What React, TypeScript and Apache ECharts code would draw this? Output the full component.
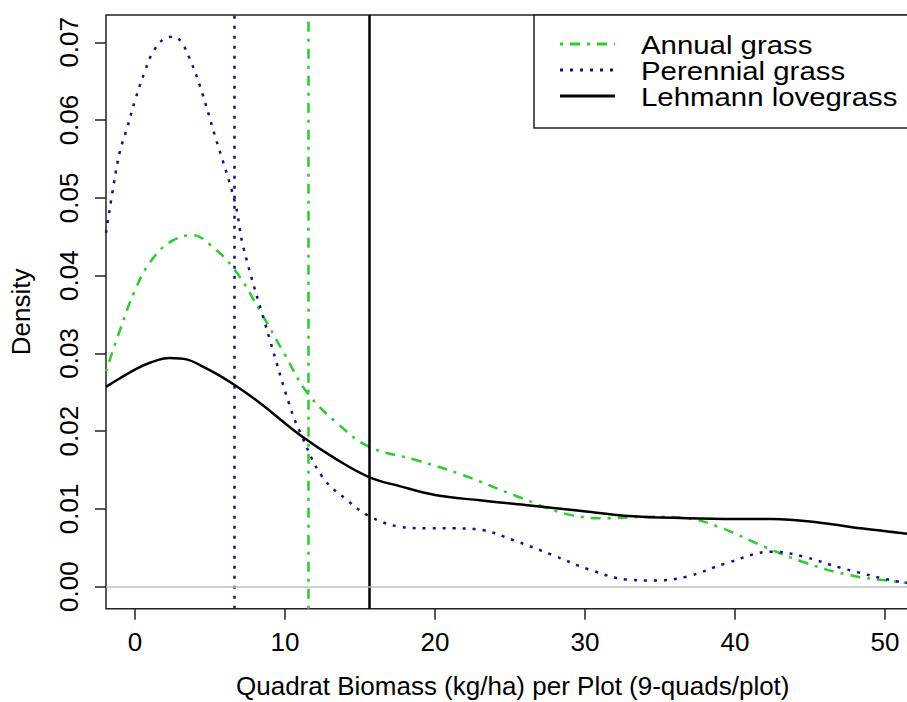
import React, { useEffect, useRef } from "react";
import * as echarts from "echarts";

// ---- data ----
const seriesNames = ["Annual grass", "Perennial grass", "Lehmann lovegrass"];
const xTicks = [0, 10, 20, 30, 40, 50];
const yTicks = [0, 0.01, 0.02, 0.03, 0.04, 0.05, 0.06, 0.07];
const meanValues = [11.53, 6.65, 15.6]; // annual, perennial, lehmann

const annualX = [-1.93, -1, 0, 1, 2.33, 3.85, 5, 6.67, 8.33, 10, 11.5, 13.5, 15.6, 18.7, 21.8, 25.5, 29.1, 31.6, 34.2, 36.8, 38.9, 42.0, 44.5, 47.6, 51.0, 52.3];
const annualY = [0.0277, 0.033, 0.0381, 0.0417, 0.0443, 0.0452, 0.044, 0.0407, 0.0355, 0.0298, 0.0249, 0.021, 0.018, 0.0163, 0.0144, 0.0116, 0.0092, 0.0088, 0.009, 0.0088, 0.0077, 0.0051, 0.0032, 0.0015, 0.0006, 0.0004];

const perennialX = [-1.93, -1.33, -1, -0.55, 0, 0.67, 1.22, 2.0, 2.6, 3.1, 3.67, 4.33, 5.33, 6.67, 7.22, 9, 10.33, 11, 12.5, 14.1, 15.6, 17.7, 19.5, 21.3, 23.1, 25.2, 27.8, 30.3, 32.9, 34.7, 36.8, 39.4, 42.5, 44.5, 47.1, 51.0, 52.3];
const perennialY = [0.0455, 0.0527, 0.056, 0.0588, 0.0625, 0.0663, 0.0688, 0.0705, 0.0707, 0.07, 0.0678, 0.0644, 0.058, 0.0494, 0.0437, 0.0317, 0.0232, 0.0199, 0.0141, 0.0112, 0.0091, 0.0077, 0.0075, 0.0075, 0.0073, 0.006, 0.0041, 0.0022, 0.0009, 0.0008, 0.0013, 0.003, 0.0045, 0.0039, 0.0024, 0.0006, 0.0004];

const lehmannX = [-1.93, -1, 0, 1, 2.33, 3.5, 4.33, 5.5, 6.67, 8, 9, 11, 13.33, 15.6, 17.7, 20, 23, 26, 29.5, 32.9, 36.8, 40, 42.5, 45.8, 48.4, 51.5, 52.3];
const lehmannY = [0.0257, 0.0268, 0.0279, 0.0288, 0.0294, 0.0292, 0.0285, 0.0273, 0.0259, 0.0241, 0.0226, 0.0195, 0.0165, 0.0141, 0.0129, 0.0118, 0.0111, 0.0105, 0.0098, 0.0091, 0.0088, 0.0087, 0.0087, 0.0082, 0.0075, 0.0068, 0.0066];

const X_MIN = -1.93;
const X_MAX = 52.3;
const Y_MIN = -0.00283;
const Y_MAX = 0.07351;

const FONT = '"Liberation Sans", Arial, sans-serif';
const GREEN = "#2ccc2c";
const BLUE = "#10108c";
const BLACK = "#000000";
const colors = [GREEN, BLUE, BLACK];
const dashes: any[] = [[3, 7, 10, 7], [3, 7], "solid"];

const zip = (xs: number[], ys: number[]) => xs.map((x, i) => [x, ys[i]]);

export default function App() {
  const ref = useRef<HTMLDivElement>(null);
  useEffect(() => {
    if (!ref.current) return;
    const chart = echarts.init(ref.current, undefined, { renderer: "svg" });
    const datas = [zip(annualX, annualY), zip(perennialX, perennialY), zip(lehmannX, lehmannY)];

    const series: any[] = datas.map((d, i) => ({
      name: seriesNames[i],
      type: "line",
      data: d,
      smooth: 0.4,
      showSymbol: false,
      symbol: "none",
      z: 3 + i,
      lineStyle: { color: colors[i], width: 2.5, type: dashes[i] },
      markLine: {
        silent: true,
        symbol: "none",
        label: { show: false },
        lineStyle: { color: colors[i], width: 2.5, type: dashes[i] },
        data: [{ xAxis: meanValues[i] }],
      },
    }));
    series.push({
      name: "zero",
      type: "line",
      data: [],
      z: 1,
      markLine: {
        silent: true,
        symbol: "none",
        label: { show: false },
        lineStyle: { color: "#bebebe", width: 1.5, type: "solid" },
        data: [{ yAxis: 0 }],
      },
    });

    const rowY = [44, 70, 96];
    const legendEls: any[] = [
      {
        type: "rect",
        z: 100,
        shape: { x: 534, y: 15, width: 420, height: 113 },
        style: { fill: "#ffffff", stroke: "#222", lineWidth: 1.5 },
      },
    ];
    seriesNames.forEach((n, i) => {
      legendEls.push({
        type: "line",
        z: 101,
        shape: { x1: 560, y1: rowY[i], x2: 615, y2: rowY[i] },
        style: { stroke: colors[i], lineWidth: 3, lineDash: dashes[i] === "solid" ? null : dashes[i] },
      });
      legendEls.push({
        type: "text",
        z: 101,
        x: 641,
        y: rowY[i] + 1,
        scaleX: 1.13,
        style: {
          text: n,
          fontSize: 26,
          lineHeight: 25,
          fontFamily: FONT,
          fill: "#000",
          verticalAlign: "middle",
          align: "left",
        },
      });
    });

    chart.setOption({
      animation: false,
      backgroundColor: "#ffffff",
      textStyle: { fontFamily: FONT },
      grid: {
        left: 106,
        top: 15,
        width: 813.5,
        height: 593.7,
        show: true,
        borderColor: "#222",
        borderWidth: 1.5,
        backgroundColor: "transparent",
        containLabel: false,
        outerBoundsMode: "none",
      },
      xAxis: {
        type: "value",
        min: X_MIN,
        max: X_MAX,
        name: "Quadrat Biomass (kg/ha) per Plot (9-quads/plot)",
        nameLocation: "middle",
        nameGap: 64,
        nameTextStyle: { fontSize: 26, lineHeight: 27, color: "#000", fontFamily: FONT },
        splitLine: { show: false },
        axisLine: { show: false, onZero: false },
        axisTick: { show: true, inside: false, length: 11, lineStyle: { color: "#222", width: 1.5 }, customValues: xTicks },
        axisLabel: { show: true, margin: 20, fontSize: 26, color: "#000", fontFamily: FONT, customValues: xTicks, formatter: (v: number) => String(v) },
      },
      yAxis: {
        type: "value",
        min: Y_MIN,
        max: Y_MAX,
        name: "Density",
        nameLocation: "middle",
        nameRotate: 90,
        nameGap: 72,
        nameTextStyle: { fontSize: 26, color: "#000", fontFamily: FONT },
        splitLine: { show: false },
        axisLine: { show: false, onZero: false },
        axisTick: { show: true, inside: false, length: 11, lineStyle: { color: "#222", width: 1.5 }, customValues: yTicks },
        axisLabel: {
          show: true,
          rotate: 90,
          margin: 24,
          fontSize: 26,
          color: "#000",
          fontFamily: FONT,
          customValues: yTicks,
          formatter: (v: number) => v.toFixed(2),
        },
      },
      series,
      graphic: legendEls,
    });
    return () => chart.dispose();
  }, []);
  return <div ref={ref} style={{ position: "absolute", left: 0, top: 0, width: 907, height: 702 }} />;
}
